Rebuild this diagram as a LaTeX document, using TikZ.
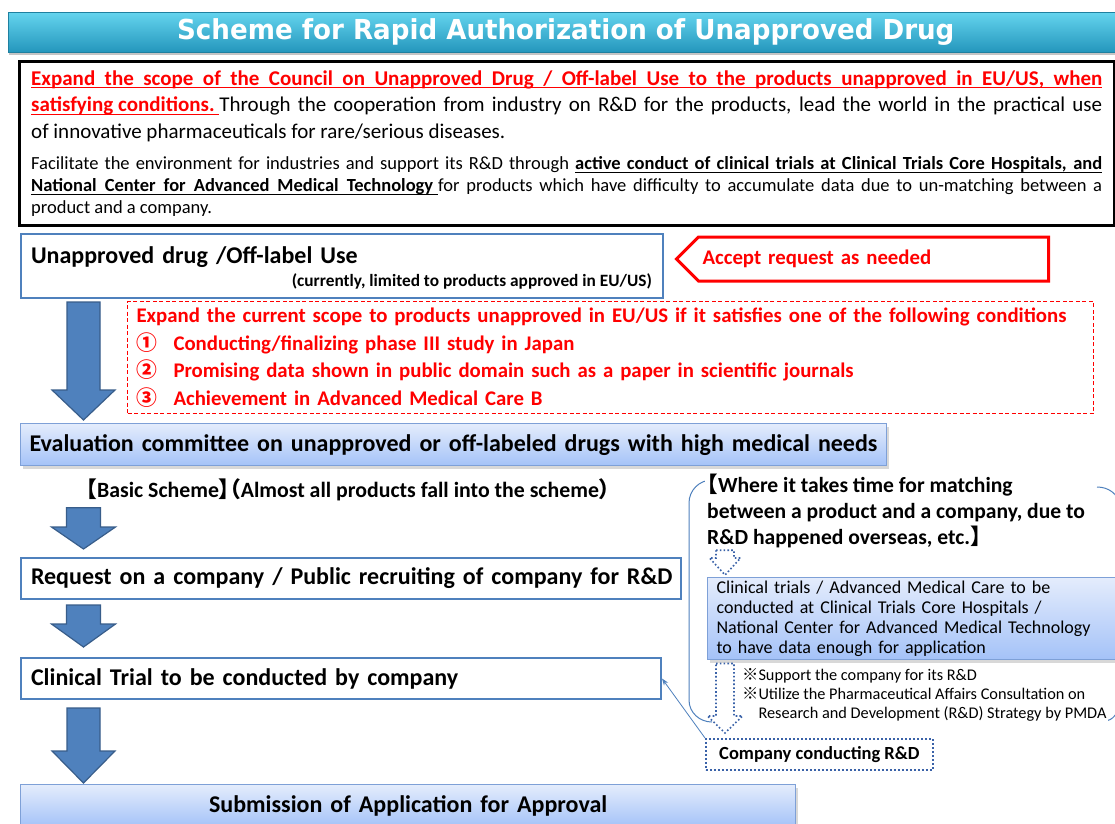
\documentclass[tikz,border=0pt]{standalone}
\usepackage{fontspec}
\setmainfont{Carlito}
\newfontfamily\titlefont{DejaVu Sans}
\newfontfamily\cjkfont{Noto Sans CJK JP}
\newfontfamily\cjkhalf[RawFeature=+halt]{Noto Sans CJK JP}
\usepackage{graphicx}
\usepackage{xcolor}
\usetikzlibrary{arrows.meta, calc, positioning, shadows, shapes.symbols}
\definecolor{MainBlue}{RGB}{79,129,189}
\definecolor{EdgeBlue}{RGB}{56,93,138}
\definecolor{SoftEdge}{RGB}{126,160,215}
\definecolor{GradTop}{RGB}{228,236,252}
\definecolor{GradBottom}{RGB}{164,194,248}
\definecolor{BarTop}{RGB}{100,212,238}
\definecolor{BarBottom}{RGB}{36,150,188}
\definecolor{AlertRed}{RGB}{255,0,0}
\definecolor{DotBlue}{RGB}{58,98,168}
\newcommand\fsize[2]{\fontsize{#1}{#2}\selectfont}
% one justified line of the text on top, and the underline used in it
\newcommand\fullline[1]{\makebox[1071pt][s]{\spaceskip=.23em plus 1fil\relax#1}}
\newcommand\ul[1]{\setbox0\hbox{#1}\rlap{\rule[-3.4pt]{\wd0}{1.1pt}}\box0}
% block arrow pointing down: [style]{x}{top}{tip}{shaft half}{head half}{head length}
\newcommand\blockarrow[7][]{%
  \path let \p1=(#3), \p2=(#4) in (#2pt,\y1) coordinate (ba-t) (#2pt,\y2) coordinate (ba-b);
  \draw[#1] ($(ba-t)+(-#5,0)$) -- ($(ba-t)+(#5,0)$) -- ($(ba-b)+(#5,-#7)$)
    -- ($(ba-b)+(#6,-#7)$) -- (ba-b) -- ($(ba-b)+(-#6,-#7)$)
    -- ($(ba-b)+(-#5,-#7)$) -- cycle;}
\tikzset{
  >=Stealth,
  % title and framed text
  titlebar/.style={top color=BarTop, bottom color=BarBottom, draw=BarBottom!85!black,
    line width=.6pt, text=white, font=\titlefont\bfseries\fsize{27.5}{30},
    drop shadow={shadow xshift=1pt, shadow yshift=-3pt, opacity=.45}},
  aimbox/.style={draw=black, line width=2.6pt, fill=white, anchor=north west},
  aimline/.style={anchor=base west, inner sep=0pt},
  % boxes of the scheme
  flowbox/.style={draw=MainBlue, line width=2pt, fill=white, anchor=north west,
    inner xsep=10pt, align=left, font=\bfseries\fsize{24}{28}},
  shadebox/.style={flowbox, draw=SoftEdge, line width=1.2pt, top color=GradTop,
    bottom color=GradBottom, drop shadow={shadow xshift=2pt, shadow yshift=-3pt, opacity=.3}},
  callout/.style={signal, signal to=west, signal from=nowhere, draw=AlertRed,
    line width=3pt, fill=white, text=AlertRed, anchor=east, align=left,
    inner xsep=4pt, minimum height=44pt, font=\bfseries\fsize{20.8}{24}},
  condbox/.style={draw=AlertRed, line width=1pt, dash pattern=on 4pt off 2.5pt,
    anchor=north west, text=AlertRed, align=left, inner xsep=9pt,
    font=\bfseries\fsize{20.8}{27.5}},
  dotbox/.style={draw=DotBlue, line width=1.8pt, dash pattern=on 1.8pt off 2.2pt,
    anchor=north west, font=\bfseries\fsize{18.5}{20}},
  % arrows
  bigarrow/.style={fill=MainBlue, draw=EdgeBlue, line width=1.2pt},
  hollowarrow/.style={fill=white, draw=DotBlue, line width=1.6pt,
    dash pattern=on 1.6pt off 2.2pt},
  link/.style={-{Stealth[length=7pt,width=5pt]}, MainBlue, line width=.8pt},
  bracket/.style={MainBlue, line width=1pt}
}
\begin{document}
\begin{tikzpicture}[x=1pt, y=-1pt]
  \useasboundingbox (0,0) rectangle (1115,823);
  \fill[white] (0,0) rectangle (1115,823);

  % title
  \node[titlebar, anchor=north west, minimum width=1115pt, minimum height=40pt] (title) at (8,12)
    {\scalebox{0.95}[1]{Scheme for Rapid Authorization of Unapproved Drug}};

  % aims, one node per line
  \node[aimbox, minimum width=1095pt, minimum height=164pt] (aim) at (18,60) {};
  \node[aimline, text=AlertRed, font=\bfseries\fsize{21}{26}] (aim-1) at (31,85)
    {\rlap{\rule[-3.4pt]{1071pt}{1.1pt}}\fullline{Expand the scope of the Council on Unapproved Drug / Off-label Use to the products unapproved in EU/US, when}};
  \node[aimline, font=\fsize{21}{26}] (aim-2) at (31,111.5)
    {\fullline{\textcolor{AlertRed}{\bfseries\ul{satisfying conditions.\ }}Through the cooperation from industry on R\&D for the products, lead the world in the practical use}};
  \node[aimline, font=\fsize{21}{26}] (aim-3) at (31,138)
    {of innovative pharmaceuticals for rare/serious diseases.};
  \node[aimline, font=\fsize{18.5}{22}] (aim-4) at (31,169.5)
    {\fullline{Facilitate the environment for industries and support its R\&D through \ul{\makebox[527pt][s]{\bfseries active conduct of clinical trials at Clinical Trials Core Hospitals, and}}}};
  \node[aimline, font=\fsize{18.5}{22}] (aim-5) at (31,191.5)
    {\fullline{\ul{\makebox[407pt][s]{\bfseries National Center for Advanced Medical Technology\hspace*{5pt}}}for products which have difficulty to accumulate data due to un-matching between a}};
  \node[aimline, font=\fsize{18.5}{22}] (aim-6) at (31,213.5)
    {product and a company.};

  % main flow
  \node[flowbox, minimum width=642pt, text width=622pt, text height=24pt, text depth=30pt,
    inner ysep=5pt] (unap) at (20,233) {Unapproved drug /Off-label Use};
  \node[anchor=base east, font=\bfseries\fsize{17.3}{18}, inner sep=0pt] (unapnote)
    at ($(unap.south east)+(-12,-13)$) {(currently, limited to products approved in EU/US)};
  \node[callout, text width=342pt] (accept) at (1050,259) {Accept request as needed};
  \node[condbox, minimum width=966pt, minimum height=112pt, text width=948pt] (cond) at (127,301)
    {Expand the current scope to products unapproved in EU/US if it satisfies one of the following conditions\\
     \makebox[37pt][l]{\cjkfont ①}Conducting/finalizing phase III study in Japan\\
     \makebox[37pt][l]{\cjkfont ②}Promising data shown in public domain such as a paper in scientific journals\\
     \makebox[37pt][l]{\cjkfont ③}Achievement in Advanced Medical Care B};
  \node[shadebox, minimum width=866pt, minimum height=42pt, text width=848pt, inner xsep=9pt] (eval) at (20,423)
    {Evaluation committee on unapproved or off-labeled drugs with high medical needs};
  \node[font=\bfseries\fsize{21.8}{24}] (basic) at (348,490)
    {{\cjkhalf 【}Basic Scheme{\cjkhalf 】（}Almost all products fall into the scheme{\cjkhalf ）}};
  \node[flowbox, minimum width=660pt, minimum height=41pt, text width=640pt] (request) at (20,557)
    {\mbox{Request on a company / Public recruiting of company for R\&D}};
  \node[flowbox, minimum width=640pt, minimum height=41pt, text width=620pt] (clinical) at (20,657)
    {Clinical Trial to be conducted by company};
  \node[shadebox, minimum width=775pt, minimum height=42pt, text width=755pt, align=center] (submit) at (20,784)
    {Submission of Application for Approval};

  \blockarrow[bigarrow]{83.5}{$(unap.south)+(0,3)$}{$(eval.north)+(0,-3)$}{16.5}{31.5}{30}
  \blockarrow[bigarrow]{83.5}{$(basic.south)+(0,3)$}{$(request.north)+(0,-8)$}{17}{32}{22}
  \blockarrow[bigarrow]{83.5}{$(request.south)+(0,5)$}{$(clinical.north)+(0,-10)$}{17}{32}{23}
  \blockarrow[bigarrow]{83.5}{$(clinical.south)+(0,8)$}{$(submit.north)+(0,-1)$}{16.5}{31.5}{32}

  % route through core hospitals
  \draw[bracket] (712,480) to[out=180, in=90] (689,503) -- (689,700) to[out=-90, in=180] (712,722);
  \draw[bracket] (1097,487) to[out=0, in=100] (1120,505);
  \draw[bracket] (1104,721) to[out=0, in=-100] (1120,703);
  \node[anchor=north west, align=left, fill=white, inner sep=2pt, font=\bfseries\fsize{21.6}{26}] (where) at (705,472)
    {{\cjkhalf 【}Where it takes time for matching\\
     between a product and a company, due to\\
     R\&D happened overseas, etc.{\cjkhalf 】}};
  \node[shadebox, font=\fsize{18}{20}, minimum width=412pt, minimum height=80pt, text width=394pt, inner xsep=9pt] (trials) at (707,577)
    {Clinical trials / Advanced Medical Care to be\\
     conducted at Clinical Trials Core Hospitals /\\
     National Center for Advanced Medical Technology\\
     to have data enough for application};
  \node[anchor=north west, align=left, fill=white, inner sep=2pt, font=\fsize{16.3}{19}] (support) at (740,666)
    {{\cjkfont ※}Support the company for its R\&D\\
     {\cjkfont ※}Utilize the Pharmaceutical Affairs Consultation on\\
     \phantom{\cjkfont ※}Research and Development (R\&D) Strategy by PMDA};
  \node[dotbox, minimum width=227pt, minimum height=31pt] (company) at (705,738) {Company conducting R\&D};

  \blockarrow[hollowarrow]{725}{$(where.south)+(0,0)$}{$(trials.north)+(0,-2)$}{9}{15.5}{17}
  \blockarrow[hollowarrow]{725}{$(trials.south)+(0,3)$}{$(company.north)+(0,-5)$}{9}{17.5}{17}
  \draw[link] (company.north west) -- (clinical.east);
\end{tikzpicture}
\end{document}
